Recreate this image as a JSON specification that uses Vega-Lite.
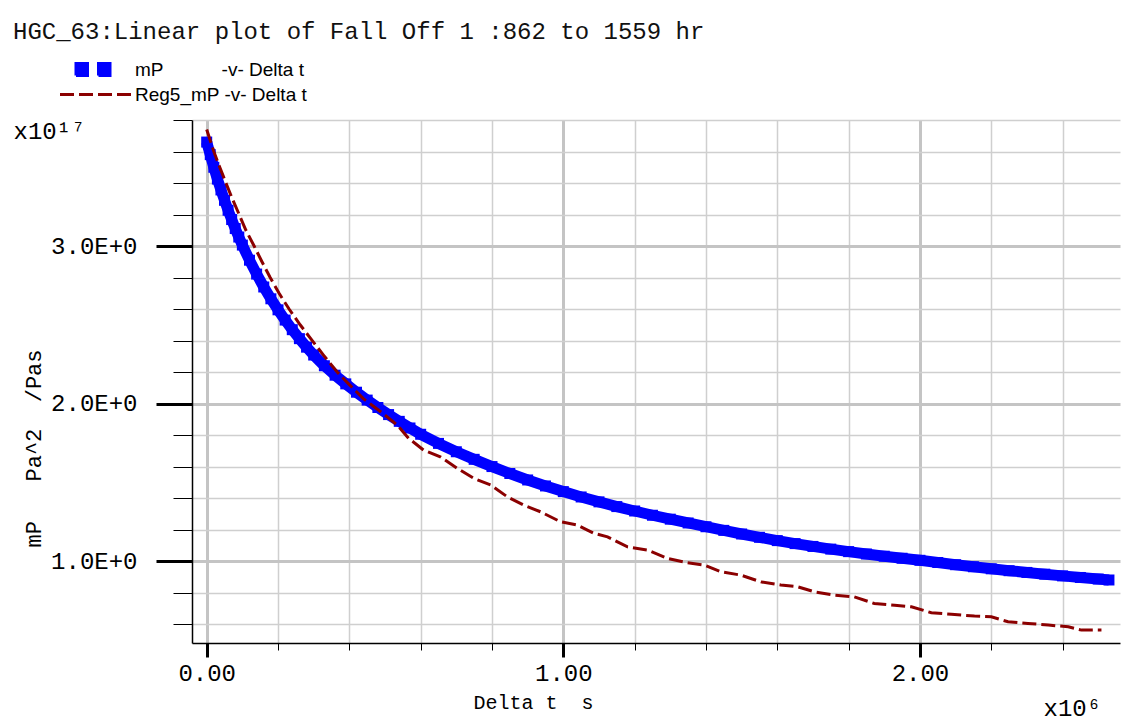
{
  "$schema": "https://vega.github.io/schema/vega-lite/v6.json",
  "width": 928,
  "height": 523,
  "autosize": {"type": "none"},
  "padding": {"left": 192, "top": 120, "right": 4, "bottom": 79},
  "background": "white",
  "config": {"view": {"stroke": null}, "font": "Liberation Mono"},
  "title": {
    "text": "HGC_63:Linear plot of Fall Off 1 :862 to 1559 hr",
    "anchor": "start",
    "frame": "group",
    "font": "Liberation Mono",
    "fontSize": 24,
    "fontWeight": "normal",
    "color": "#111111",
    "baseline": "alphabetic",
    "dx": -179,
    "offset": -5
  },
  "datasets": {
    "mp": [
      {"t": 0.00, "v": 3.66}, {"t": 0.01, "v": 3.58}, {"t": 0.02, "v": 3.50}, {"t": 0.03, "v": 3.425},
      {"t": 0.04, "v": 3.356}, {"t": 0.05, "v": 3.29}, {"t": 0.06, "v": 3.227}, {"t": 0.07, "v": 3.168},
      {"t": 0.08, "v": 3.111}, {"t": 0.09, "v": 3.057}, {"t": 0.10, "v": 3.006}, {"t": 0.12, "v": 2.91},
      {"t": 0.14, "v": 2.822}, {"t": 0.16, "v": 2.74}, {"t": 0.18, "v": 2.665}, {"t": 0.20, "v": 2.595},
      {"t": 0.22, "v": 2.53}, {"t": 0.24, "v": 2.469}, {"t": 0.26, "v": 2.412}, {"t": 0.28, "v": 2.358},
      {"t": 0.30, "v": 2.308}, {"t": 0.33, "v": 2.24}, {"t": 0.36, "v": 2.18}, {"t": 0.39, "v": 2.125},
      {"t": 0.42, "v": 2.072}, {"t": 0.45, "v": 2.022}, {"t": 0.48, "v": 1.975}, {"t": 0.51, "v": 1.93},
      {"t": 0.54, "v": 1.887}, {"t": 0.57, "v": 1.845}, {"t": 0.60, "v": 1.805}, {"t": 0.65, "v": 1.747},
      {"t": 0.70, "v": 1.694}, {"t": 0.75, "v": 1.646}, {"t": 0.80, "v": 1.60}, {"t": 0.85, "v": 1.556},
      {"t": 0.90, "v": 1.515}, {"t": 0.95, "v": 1.477}, {"t": 1.00, "v": 1.441}, {"t": 1.05, "v": 1.407},
      {"t": 1.10, "v": 1.376}, {"t": 1.15, "v": 1.346}, {"t": 1.20, "v": 1.318}, {"t": 1.25, "v": 1.291},
      {"t": 1.30, "v": 1.266}, {"t": 1.35, "v": 1.242}, {"t": 1.40, "v": 1.218}, {"t": 1.45, "v": 1.195},
      {"t": 1.50, "v": 1.172}, {"t": 1.55, "v": 1.151}, {"t": 1.60, "v": 1.13}, {"t": 1.65, "v": 1.111},
      {"t": 1.70, "v": 1.093}, {"t": 1.75, "v": 1.076}, {"t": 1.80, "v": 1.06}, {"t": 1.85, "v": 1.045},
      {"t": 1.90, "v": 1.031}, {"t": 1.95, "v": 1.018}, {"t": 2.00, "v": 1.005}, {"t": 2.05, "v": 0.991},
      {"t": 2.10, "v": 0.977}, {"t": 2.15, "v": 0.964}, {"t": 2.20, "v": 0.951}, {"t": 2.25, "v": 0.939},
      {"t": 2.30, "v": 0.928}, {"t": 2.35, "v": 0.917}, {"t": 2.40, "v": 0.906}, {"t": 2.45, "v": 0.896},
      {"t": 2.50, "v": 0.886}, {"t": 2.53, "v": 0.88}
    ],
    "reg": [
      {"t": 0.0, "v": 3.74}, {"t": 0.01, "v": 3.67}, {"t": 0.02, "v": 3.60}, {"t": 0.035, "v": 3.51},
      {"t": 0.054, "v": 3.40}, {"t": 0.07, "v": 3.31}, {"t": 0.091, "v": 3.20}, {"t": 0.11, "v": 3.10},
      {"t": 0.133, "v": 3.00}, {"t": 0.155, "v": 2.90}, {"t": 0.178, "v": 2.80}, {"t": 0.203, "v": 2.70},
      {"t": 0.231, "v": 2.60}, {"t": 0.262, "v": 2.50}, {"t": 0.296, "v": 2.40}, {"t": 0.33, "v": 2.30},
      {"t": 0.366, "v": 2.20}, {"t": 0.40, "v": 2.12}, {"t": 0.44, "v": 2.03}, {"t": 0.487, "v": 1.95},
      {"t": 0.534, "v": 1.864}, {"t": 0.566, "v": 1.78}, {"t": 0.608, "v": 1.705}, {"t": 0.655, "v": 1.662},
      {"t": 0.702, "v": 1.59}, {"t": 0.749, "v": 1.525}, {"t": 0.796, "v": 1.483}, {"t": 0.843, "v": 1.408},
      {"t": 0.889, "v": 1.355}, {"t": 0.936, "v": 1.313}, {"t": 0.992, "v": 1.25}, {"t": 1.039, "v": 1.229},
      {"t": 1.086, "v": 1.176}, {"t": 1.124, "v": 1.154}, {"t": 1.18, "v": 1.09}, {"t": 1.236, "v": 1.07},
      {"t": 1.292, "v": 1.017}, {"t": 1.348, "v": 0.99}, {"t": 1.395, "v": 0.975}, {"t": 1.442, "v": 0.932},
      {"t": 1.498, "v": 0.911}, {"t": 1.554, "v": 0.868}, {"t": 1.61, "v": 0.848}, {"t": 1.657, "v": 0.837},
      {"t": 1.704, "v": 0.805}, {"t": 1.76, "v": 0.784}, {"t": 1.816, "v": 0.773}, {"t": 1.872, "v": 0.731},
      {"t": 1.929, "v": 0.72}, {"t": 1.976, "v": 0.71}, {"t": 2.032, "v": 0.672}, {"t": 2.088, "v": 0.662},
      {"t": 2.153, "v": 0.651}, {"t": 2.2, "v": 0.646}, {"t": 2.247, "v": 0.615}, {"t": 2.303, "v": 0.604},
      {"t": 2.36, "v": 0.594}, {"t": 2.416, "v": 0.583}, {"t": 2.453, "v": 0.562}, {"t": 2.509, "v": 0.562}
    ]
  },
  "layer": [
    {
      "data": {"name": "mp"},
      "mark": {
        "type": "line",
        "strokeWidth": 11,
        "strokeCap": "butt",
        "strokeJoin": "round",
        "point": {"filled": true, "shape": "square", "size": 121, "strokeWidth": 0}
      },
      "encoding": {
        "x": {
          "field": "t",
          "type": "quantitative",
          "scale": {"domain": [-0.0412, 2.561], "nice": false, "zero": false},
          "axis": {
            "values": [0, 0.2, 0.4, 0.6, 0.8, 1.0, 1.2, 1.4, 1.6, 1.8, 2.0, 2.2, 2.4],
            "labelExpr": "abs(datum.value - round(datum.value)) < 0.001 ? format(datum.value, '.2f') : ''",
            "labelFont": "Liberation Mono",
            "labelFontSize": 24,
            "labelColor": "black",
            "labelPadding": 4,
            "labelFlush": false,
            "labelOverlap": false,
            "labelBound": false,
            "tickColor": "black",
            "tickWidth": {"condition": {"test": "abs(datum.value - round(datum.value)) < 0.001", "value": 3}, "value": 1},
            "tickSize": {"condition": {"test": "abs(datum.value - round(datum.value)) < 0.001", "value": 14}, "value": 7},
            "grid": true,
            "gridColor": {"condition": {"test": "abs(datum.value - round(datum.value)) < 0.001", "value": "#c4c4c4"}, "value": "#cfcfcf"},
            "gridWidth": {"condition": {"test": "abs(datum.value - round(datum.value)) < 0.001", "value": 3}, "value": 1.5},
            "domainColor": "black",
            "domainWidth": 1.5,
            "title": "Delta t\u00a0\u00a0s",
            "titleFont": "Liberation Mono",
            "titleFontSize": 20,
            "titleFontWeight": "normal",
            "titleColor": "black",
            "titleX": 341,
            "titleY": 65,
            "titleAlign": "center",
            "titleBaseline": "alphabetic"
          }
        },
        "y": {
          "field": "v",
          "type": "quantitative",
          "scale": {"domain": [0.48, 3.8], "nice": false, "zero": false},
          "axis": {
            "values": [0.6, 0.8, 1.0, 1.2, 1.4, 1.6, 1.8, 2.0, 2.2, 2.4, 2.6, 2.8, 3.0, 3.2, 3.4, 3.6, 3.8],
            "labelExpr": "abs(datum.value - round(datum.value)) < 0.001 ? format(datum.value, '.1f') + 'E+0' : ''",
            "labelFont": "Liberation Mono",
            "labelFontSize": 24,
            "labelColor": "black",
            "labelPadding": 19,
            "labelFlush": false,
            "labelOverlap": false,
            "labelBound": false,
            "tickColor": "black",
            "tickWidth": {"condition": {"test": "abs(datum.value - round(datum.value)) < 0.001", "value": 3}, "value": 1},
            "tickSize": {"condition": {"test": "abs(datum.value - round(datum.value)) < 0.001", "value": 36}, "value": 19},
            "grid": true,
            "gridColor": {"condition": {"test": "abs(datum.value - round(datum.value)) < 0.001", "value": "#c4c4c4"}, "value": "#cfcfcf"},
            "gridWidth": {"condition": {"test": "abs(datum.value - round(datum.value)) < 0.001", "value": 3}, "value": 1.5},
            "domainColor": "black",
            "domainWidth": 1.5,
            "title": "mP\u00a0\u00a0\u00a0Pa^2\u00a0\u00a0/Pas",
            "titleFont": "Liberation Mono",
            "titleFontSize": 22,
            "titleFontWeight": "normal",
            "titleColor": "black",
            "titleAngle": 270,
            "titleX": -152,
            "titleY": 328,
            "titleAlign": "center",
            "titleBaseline": "alphabetic"
          }
        },
        "color": {
          "datum": "mP",
          "type": "nominal",
          "scale": {"domain": ["mP", "Reg5_mP"], "range": ["#0000ff", "#8b0000"]},
          "legend": {
            "title": null,
            "orient": "none",
            "legendX": -106,
            "legendY": -62,
            "padding": 0,
            "symbolSize": 400,
            "labelFont": "Liberation Sans",
            "labelFontSize": 19,
            "labelColor": "black",
            "labelLimit": 500,
            "labelOffset": 26,
            "rowPadding": 1,
            "labelExpr": "datum.value == 'mP' ? 'mP\u00a0\u00a0\u00a0\u00a0\u00a0\u00a0\u00a0\u00a0\u00a0\u00a0\u00a0-v- Delta t' : 'Reg5_mP -v- Delta t'",
            "encode": {
              "symbols": {
                "update": {
                  "shape": {"signal": "datum.value == 'mP' ? 'M-2.15,-0.6H-1.0V0.6H-2.15Z M0.1,-0.6H1.25V0.6H0.1Z' : 'M-3.75,0H3.75'"},
                  "fill": {"signal": "datum.value == 'mP' ? '#0000ff' : 'transparent'"},
                  "stroke": {"signal": "datum.value == 'mP' ? 'transparent' : '#8b0000'"},
                  "strokeWidth": {"value": 3},
                  "strokeDash": {"signal": "datum.value == 'mP' ? [1, 0] : [14, 5]"},
                  "opacity": {"value": 1}
                }
              }
            }
          }
        }
      }
    },
    {
      "data": {"name": "reg"},
      "mark": {"type": "line", "strokeWidth": 3, "strokeDash": [14, 5]},
      "encoding": {
        "x": {
          "field": "t",
          "type": "quantitative",
          "axis": {
            "orient": "bottom",
            "domain": false,
            "ticks": false,
            "labels": false,
            "grid": false,
            "title": "x10⁶",
            "titleFont": "Liberation Mono",
            "titleFontSize": 24,
            "titleFontWeight": "normal",
            "titleColor": "black",
            "titleX": 851,
            "titleY": 72,
            "titleAlign": "left",
            "titleBaseline": "alphabetic"
          }
        },
        "y": {
          "field": "v",
          "type": "quantitative",
          "axis": {
            "orient": "left",
            "domain": false,
            "ticks": false,
            "labels": false,
            "grid": false,
            "title": "x10¹⁷",
            "titleFont": "Liberation Mono",
            "titleFontSize": 24,
            "titleFontWeight": "normal",
            "titleColor": "black",
            "titleAngle": 0,
            "titleX": -179,
            "titleY": 18,
            "titleAlign": "left",
            "titleBaseline": "alphabetic"
          }
        },
        "color": {"datum": "Reg5_mP", "type": "nominal"}
      }
    }
  ],
  "resolve": {"axis": {"x": "independent", "y": "independent"}}
}
